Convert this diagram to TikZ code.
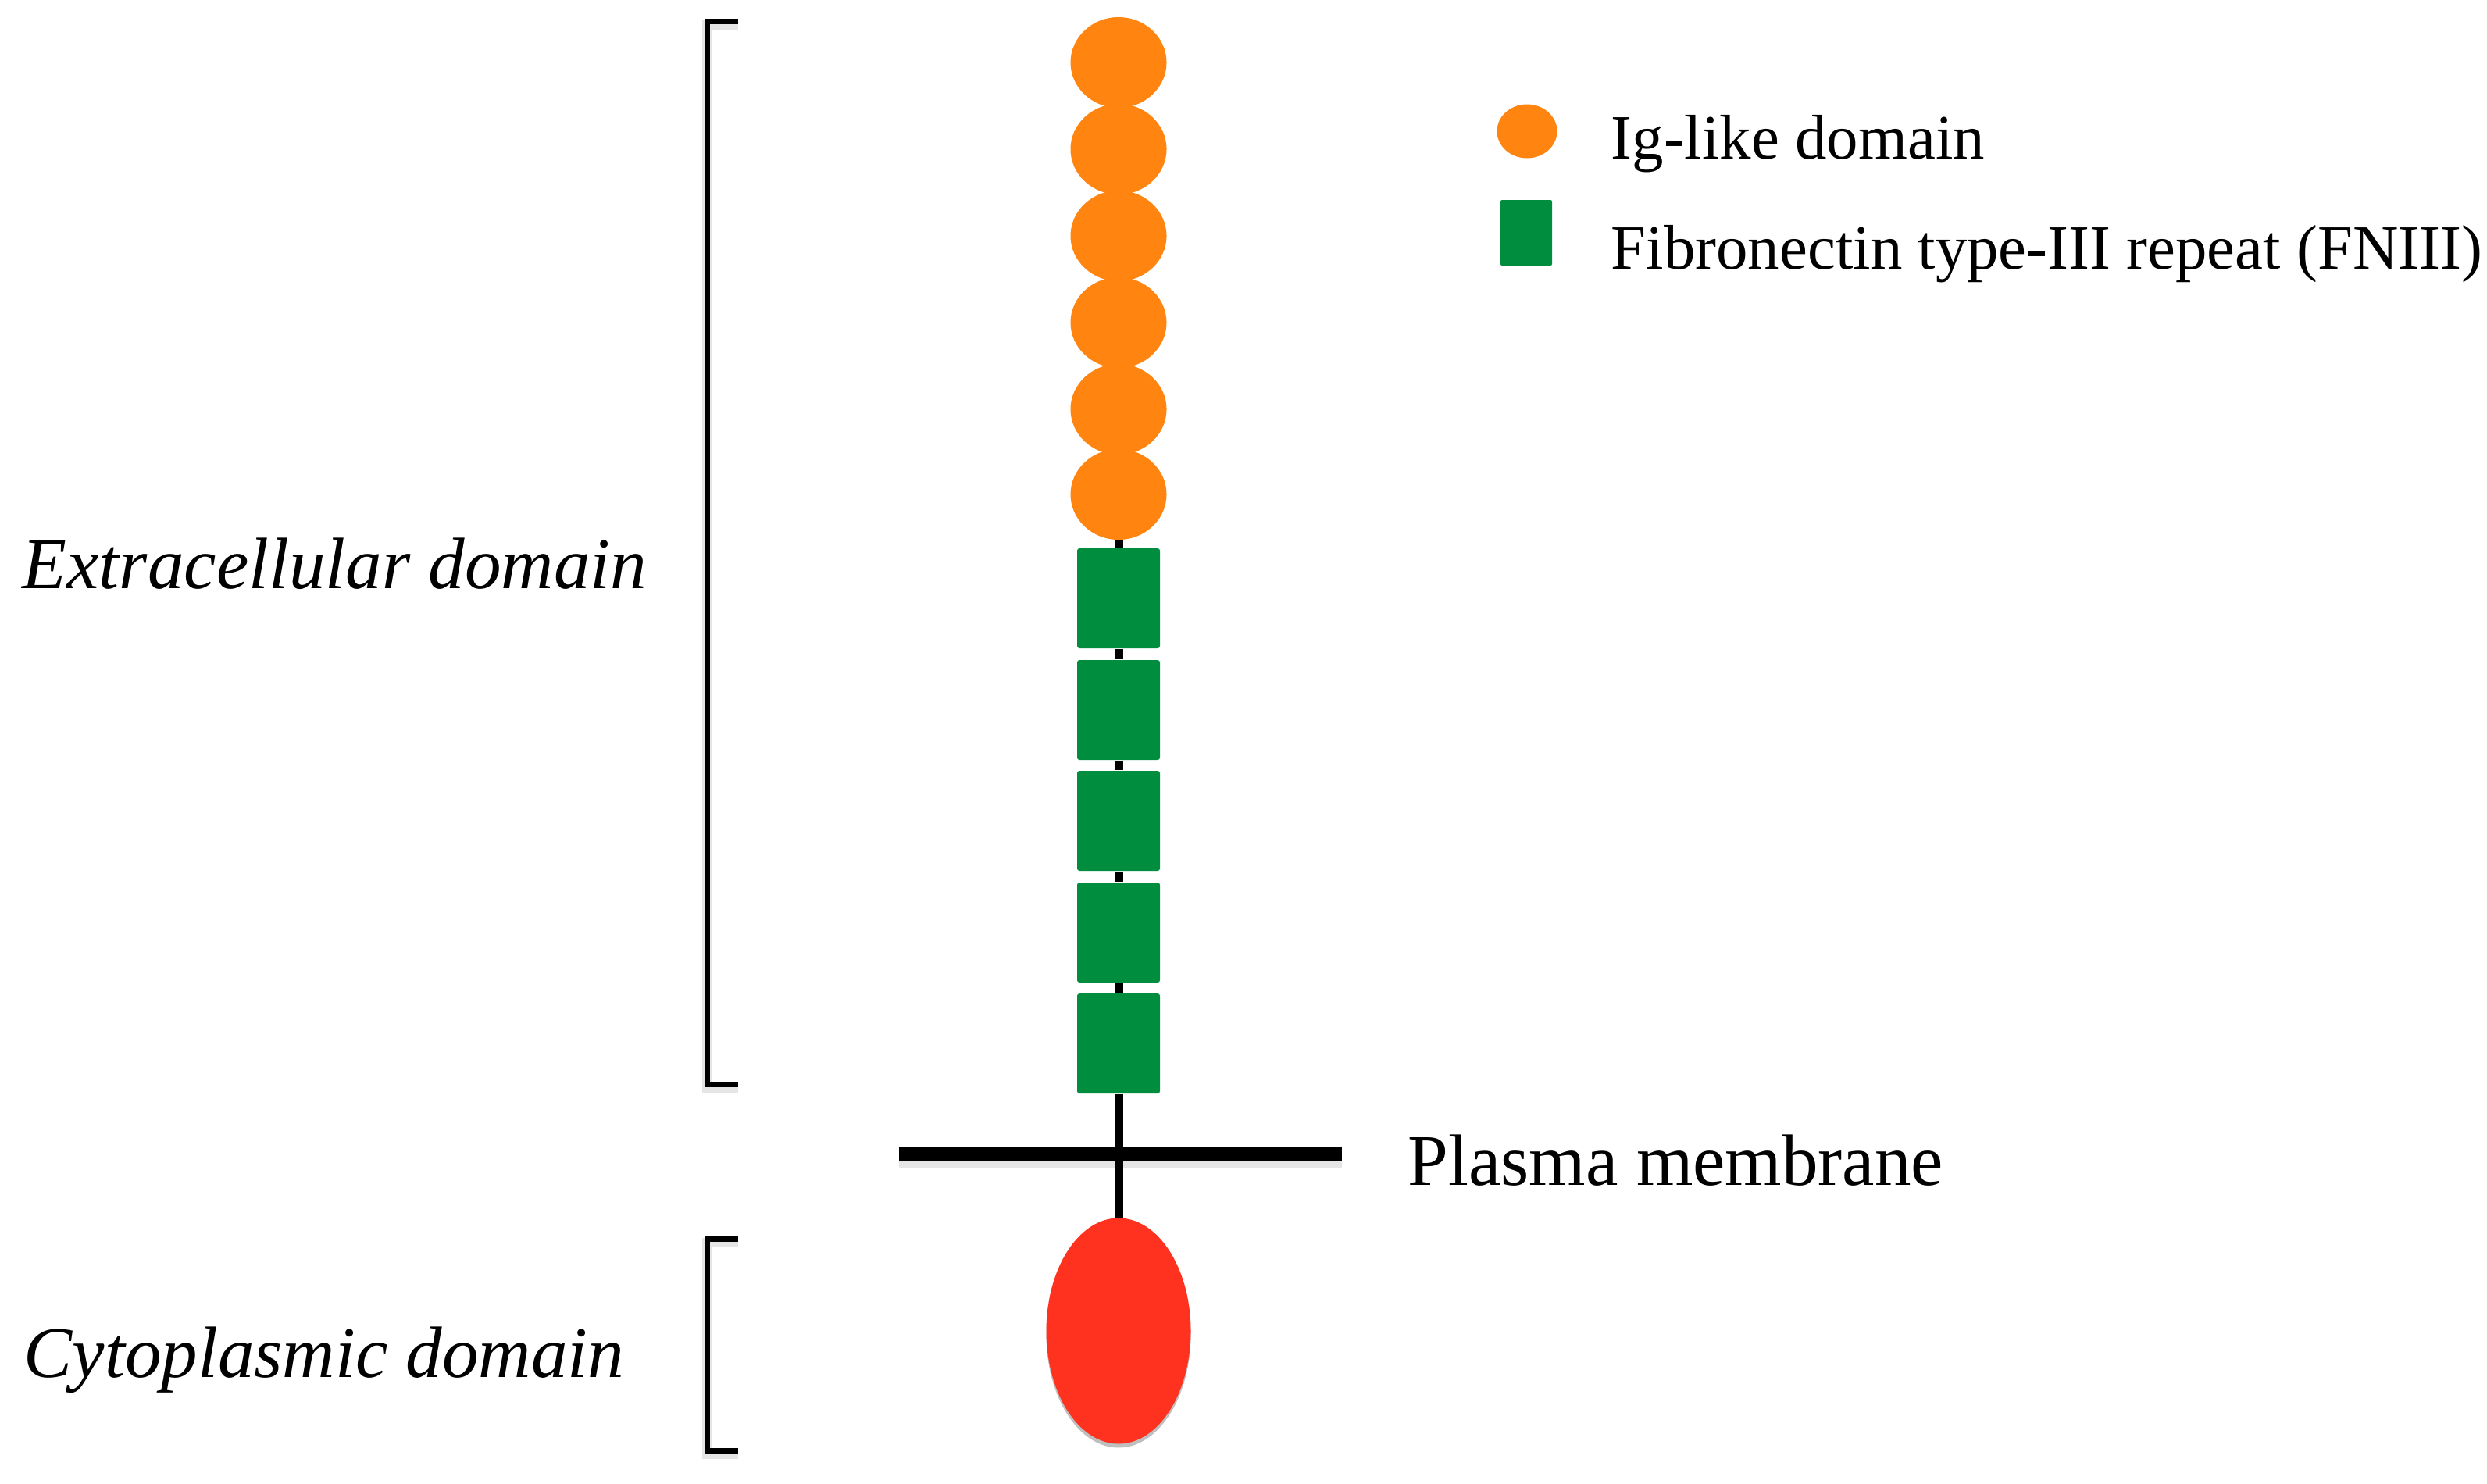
\documentclass[tikz,border=0pt]{standalone}
\usepackage{fontspec}
\setmainfont{Liberation Serif}
\usetikzlibrary{shapes.geometric,shadows}
\definecolor{igorange}{RGB}{255,132,16}
\definecolor{fngreen}{RGB}{0,142,62}
\definecolor{cytred}{RGB}{255,50,32}
\tikzset{
  igdom/.style={ellipse,fill=igorange,draw=none,minimum width=1.23cm,minimum height=1.16cm,inner sep=0pt},
  fndom/.style={rectangle,fill=fngreen,draw=none,rounded corners=0.03cm,minimum width=1.06cm,minimum height=1.28cm,inner sep=0pt},
  cytdom/.style={ellipse,fill=cytred,draw=none,minimum width=1.85cm,minimum height=2.89cm,inner sep=0pt,
    drop shadow={shadow xshift=0cm,shadow yshift=-0.05cm,opacity=0.25,fill=black}},
  stemline/.style={line width=0.11cm,black},
  membraneline/.style={line width=0.19cm,black},
  bracketline/.style={line width=0.07cm,black},
  shadowline/.style={line width=0.12cm,black,opacity=0.10},
  biglabel/.style={font=\fontsize{26.5}{30}\selectfont,inner sep=0pt,anchor=base west},
  legendlabel/.style={font=\fontsize{23}{27}\selectfont,inner sep=0pt,anchor=base west}
}
\begin{document}
\begin{tikzpicture}
\useasboundingbox (0,0) rectangle (31.84,-18.99);
% Ig-like domains
\node[igdom] (ig1) at (14.32,-0.80) {};
\node[igdom] (ig2) at (14.32,-1.91) {};
\node[igdom] (ig3) at (14.32,-3.02) {};
\node[igdom] (ig4) at (14.32,-4.13) {};
\node[igdom] (ig5) at (14.32,-5.24) {};
\node[igdom] (ig6) at (14.32,-6.33) {};
% FNIII repeats
\node[fndom] (fn1) at (14.32,-7.66) {};
\node[fndom] (fn2) at (14.32,-9.09) {};
\node[fndom] (fn3) at (14.32,-10.51) {};
\node[fndom] (fn4) at (14.32,-11.94) {};
\node[fndom] (fn5) at (14.32,-13.36) {};
% cytoplasmic domain
\node[cytdom] (cyt) at (14.32,-17.04) {};
% membrane
\coordinate (memL) at (11.51,-14.77);
\coordinate (memR) at (17.18,-14.77);
\draw[shadowline,line width=0.22cm] ([yshift=-0.07cm]memL) -- ([yshift=-0.07cm]memR);
\draw[membraneline] (memL) -- (memR);
% stem connectors
\draw[stemline] (ig6.south) -- (fn1.north);
\draw[stemline] (fn1.south) -- (fn2.north);
\draw[stemline] (fn2.south) -- (fn3.north);
\draw[stemline] (fn3.south) -- (fn4.north);
\draw[stemline] (fn4.south) -- (fn5.north);
\draw[stemline] (fn5.south) -- (cyt.north);
% brackets
\coordinate (b1a) at (9.45,-0.27);
\coordinate (b1b) at (9.05,-0.27);
\coordinate (b1c) at (9.05,-13.88);
\coordinate (b1d) at (9.45,-13.88);
\coordinate (b2a) at (9.45,-15.86);
\coordinate (b2b) at (9.05,-15.86);
\coordinate (b2c) at (9.05,-18.57);
\coordinate (b2d) at (9.45,-18.57);
\draw[shadowline] ([yshift=-0.05cm]b1a) -- ([yshift=-0.05cm]b1b) -- ([yshift=-0.05cm]b1c) -- ([yshift=-0.05cm]b1d);
\draw[shadowline] ([yshift=-0.05cm]b2a) -- ([yshift=-0.05cm]b2b) -- ([yshift=-0.05cm]b2c) -- ([yshift=-0.05cm]b2d);
\draw[bracketline] (b1a) -- (b1b) -- (b1c) -- (b1d);
\draw[bracketline] (b2a) -- (b2b) -- (b2c) -- (b2d);
% labels
\node[biglabel] (extra) at (0.28,-7.53) {\itshape Extracellular domain};
\node[biglabel] (cyto) at (0.30,-17.63) {\itshape Cytoplasmic domain};
\node[biglabel] (plasma) at (18.02,-15.17) {Plasma membrane};
% legend
\node[igdom,minimum width=0.77cm,minimum height=0.69cm] (legig) at (19.55,-1.68) {};
\node[fndom,minimum width=0.66cm,minimum height=0.84cm,rounded corners=0.02cm] (legfn) at (19.54,-2.98) {};
\node[legendlabel] (legigtext) at (20.62,-2.03) {Ig-like domain};
\node[legendlabel] (legfntext) at (20.62,-3.44) {Fibronectin type-III repeat (FNIII)};
\end{tikzpicture}
\end{document}
